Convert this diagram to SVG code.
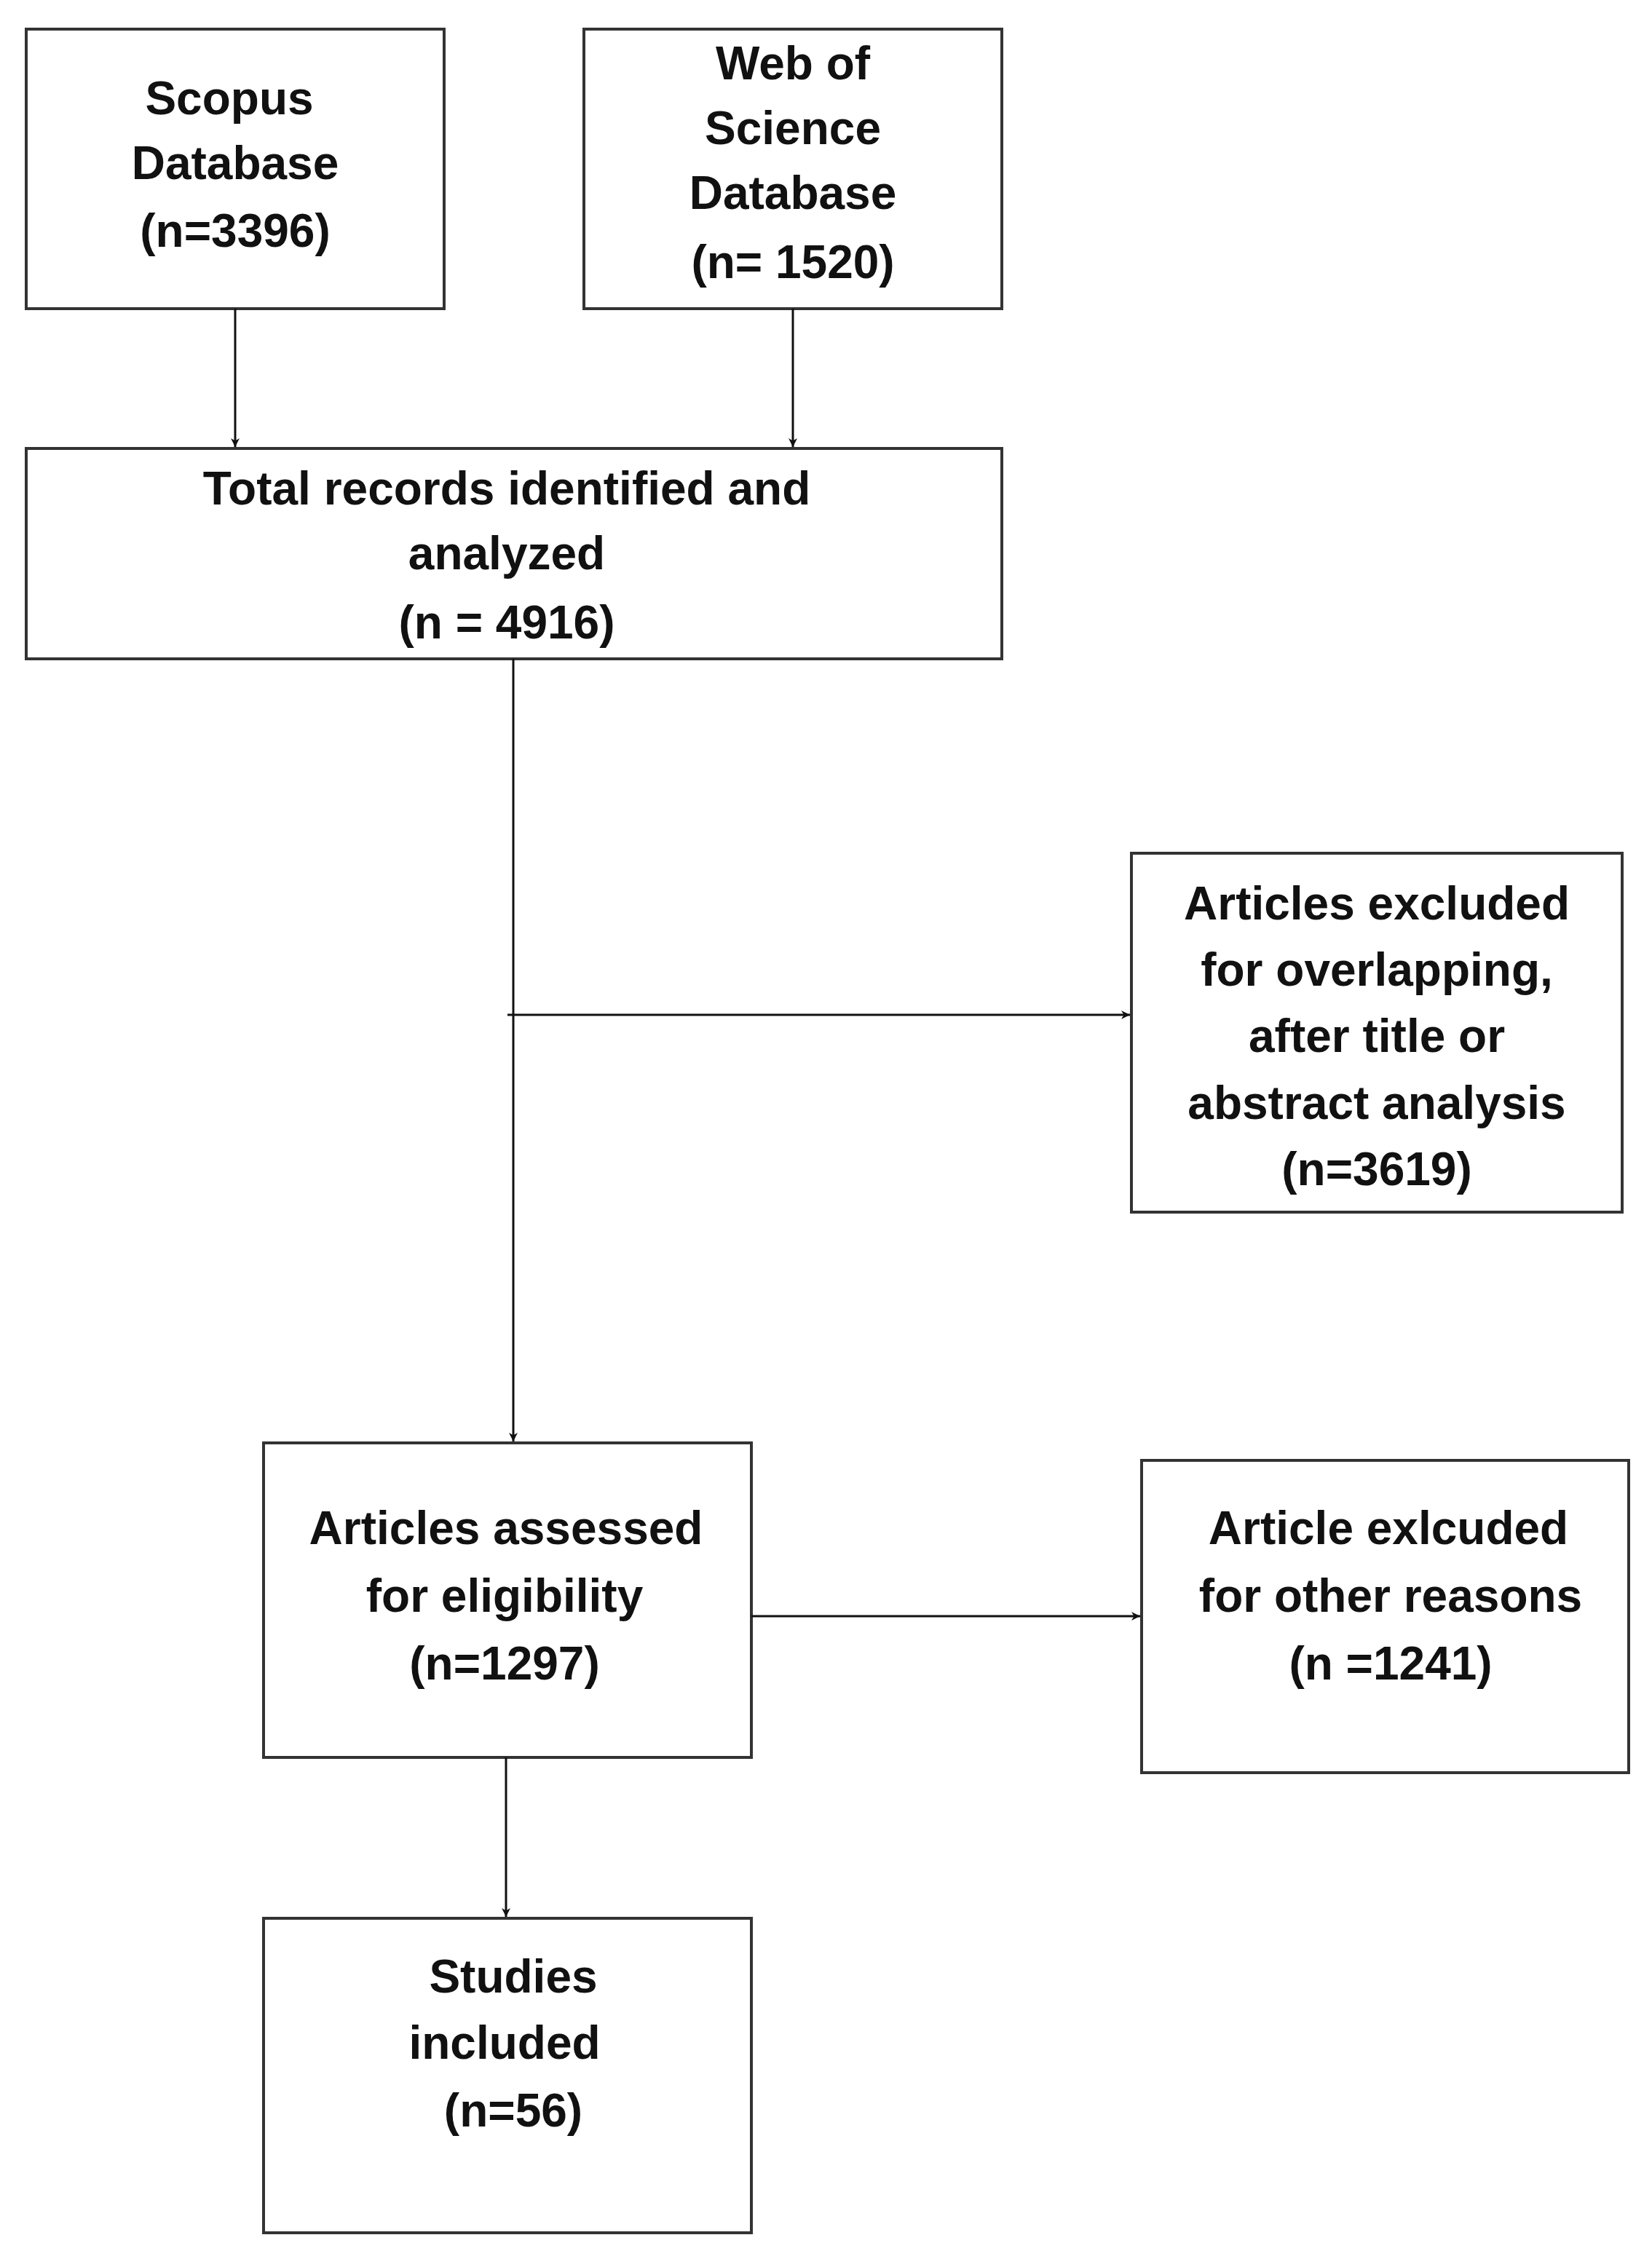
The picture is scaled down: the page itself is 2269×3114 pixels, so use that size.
<svg xmlns="http://www.w3.org/2000/svg" width="2269" height="3114" viewBox="0 0 2269 3114">
<style>
.b{fill:#fff;stroke:#333;stroke-width:4}
.t{font-family:"Liberation Sans",Arial,sans-serif;font-weight:bold;font-size:64px;fill:#111;text-anchor:middle;dominant-baseline:central}
.c{stroke:#111;stroke-width:3;fill:none;marker-end:url(#a)}
</style>
<defs><marker id="a" viewBox="0 0 10 10" refX="10" refY="5" markerWidth="12" markerHeight="12" markerUnits="userSpaceOnUse" orient="auto"><path d="M0,0 L10,5 L0,10 L3,5 Z" fill="#111"/></marker></defs>
<rect width="2269" height="3114" fill="#fff"/>
<g id="scopus"><rect class="b" x="36" y="40" width="574" height="384"/>
<text class="t" x="315" y="135">Scopus</text><text class="t" x="323" y="224">Database</text><text class="t" x="323" y="317">(n=3396)</text></g>
<g id="wos"><rect class="b" x="802" y="40" width="574" height="384"/>
<text class="t" x="1089" y="87">Web of</text><text class="t" x="1089" y="176">Science</text><text class="t" x="1089" y="265">Database</text><text class="t" x="1089" y="360">(n= 1520)</text></g>
<g id="total"><rect class="b" x="36" y="616" width="1340" height="289"/>
<text class="t" x="696" y="671">Total records identified and</text><text class="t" x="696" y="760">analyzed</text><text class="t" x="696" y="855">(n = 4916)</text></g>
<g id="overlap"><rect class="b" x="1554" y="1172" width="674" height="493"/>
<text class="t" x="1891" y="1241">Articles excluded</text><text class="t" x="1891" y="1332">for overlapping,</text><text class="t" x="1891" y="1423">after title or</text><text class="t" x="1891" y="1515">abstract analysis</text><text class="t" x="1891" y="1606">(n=3619)</text></g>
<g id="assessed"><rect class="b" x="362" y="1982" width="670" height="432"/>
<text class="t" x="695" y="2099">Articles assessed</text><text class="t" x="693" y="2192">for eligibility</text><text class="t" x="693" y="2285">(n=1297)</text></g>
<g id="other"><rect class="b" x="1568" y="2006" width="669" height="429"/>
<text class="t" x="1907" y="2099">Article exlcuded</text><text class="t" x="1910" y="2192">for other reasons</text><text class="t" x="1910" y="2285">(n =1241)</text></g>
<g id="studies"><rect class="b" x="362" y="2635" width="670" height="432"/>
<text class="t" x="705" y="2715">Studies</text><text class="t" x="693" y="2806">included</text><text class="t" x="705" y="2899">(n=56)</text></g>
<g id="connectors">
<path class="c" d="M323,424 V614"/>
<path class="c" d="M1089,424 V614"/>
<path class="c" d="M705,905 V1980"/>
<path class="c" d="M697,1394 H1552"/>
<path class="c" d="M1032,2220 H1566"/>
<path class="c" d="M695,2414 V2633"/>
</g>
</svg>
